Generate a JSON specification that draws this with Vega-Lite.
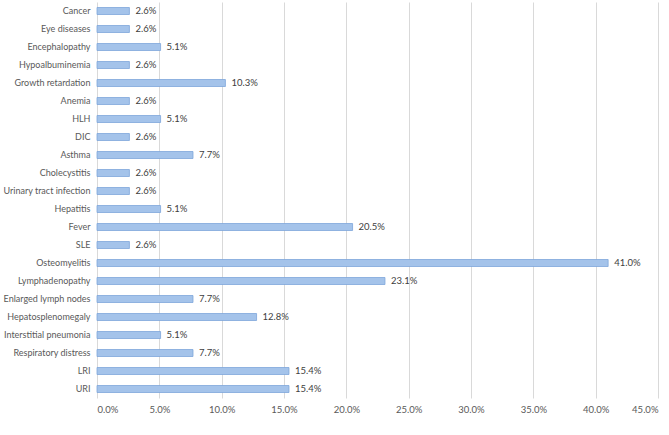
{
  "$schema": "https://vega.github.io/schema/vega-lite/v6.json",
  "autosize": "none",
  "width": 561,
  "height": 396,
  "padding": {"left": 97, "top": 2, "right": 11, "bottom": 37},
  "background": "white",
  "config": {
    "view": {"stroke": null},
    "font": "Lato",
    "axis": {"labelFont": "Lato", "labelColor": "#595959", "labelFontSize": 9.5}
  },
  "data": {
    "values": [
      {"cat": "Cancer", "v": 0.026},
      {"cat": "Eye diseases", "v": 0.026},
      {"cat": "Encephalopathy", "v": 0.051},
      {"cat": "Hypoalbuminemia", "v": 0.026},
      {"cat": "Growth retardation", "v": 0.103},
      {"cat": "Anemia", "v": 0.026},
      {"cat": "HLH", "v": 0.051},
      {"cat": "DIC", "v": 0.026},
      {"cat": "Asthma", "v": 0.077},
      {"cat": "Cholecystitis", "v": 0.026},
      {"cat": "Urinary tract infection", "v": 0.026},
      {"cat": "Hepatitis", "v": 0.051},
      {"cat": "Fever", "v": 0.205},
      {"cat": "SLE", "v": 0.026},
      {"cat": "Osteomyelitis", "v": 0.41},
      {"cat": "Lymphadenopathy", "v": 0.231},
      {"cat": "Enlarged lymph nodes", "v": 0.077},
      {"cat": "Hepatosplenomegaly", "v": 0.128},
      {"cat": "Interstitial pneumonia", "v": 0.051},
      {"cat": "Respiratory distress", "v": 0.077},
      {"cat": "LRI", "v": 0.154},
      {"cat": "URI", "v": 0.154}
    ]
  },
  "encoding": {
    "y": {
      "field": "cat", "type": "nominal", "sort": null, "title": null,
      "axis": {"ticks": false, "domain": false, "labelPadding": 7, "grid": false, "labelFontSize": 9}
    },
    "x": {
      "field": "v", "type": "quantitative", "title": null,
      "scale": {"domain": [0, 0.45], "nice": false},
      "axis": {"format": ".1%", "values": [0, 0.05, 0.1, 0.15, 0.2, 0.25, 0.3, 0.35, 0.4, 0.45], "ticks": false, "domain": false, "gridColor": "#D9D9D9", "labelPadding": 6}
    }
  },
  "layer": [
    {
      "mark": {"type": "bar", "size": 7, "color": "#A4C3EA", "stroke": "#7EA6DA", "strokeWidth": 0.8}
    },
    {
      "mark": {"type": "text", "align": "left", "dx": 6, "font": "Lato", "fontSize": 9.5, "color": "#404040"},
      "encoding": {"text": {"field": "v", "format": ".1%"}}
    }
  ]
}
